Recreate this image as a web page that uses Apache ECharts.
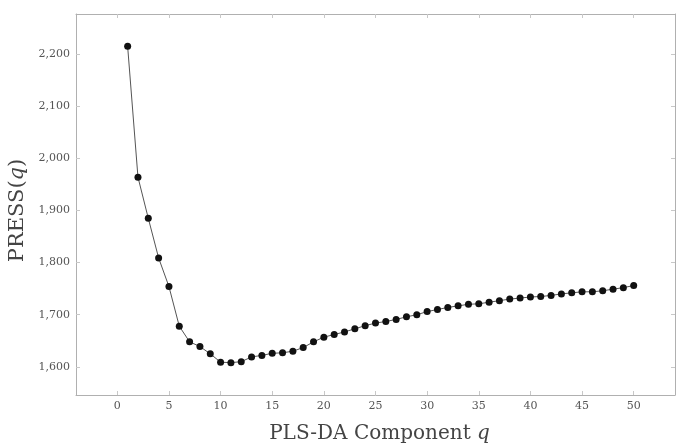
<!DOCTYPE html>
<html>
<head>
<meta charset="utf-8">
<script src="https://cdn.jsdelivr.net/npm/echarts@6/dist/echarts.min.js"></script>
<style>html,body{margin:0;padding:0;background:#fff;}#c{width:678px;height:443px;}</style>
</head>
<body>
<div id="c"></div>
<script>
const components = [1,2,3,4,5,6,7,8,9,10,11,12,13,14,15,16,17,18,19,20,21,22,23,24,25,26,27,28,29,30,31,32,33,34,35,36,37,38,39,40,41,42,43,44,45,46,47,48,49,50];
const press = [2215,1964,1885,1809,1754,1678,1648,1639,1625,1609,1608,1610,1619,1622,1626,1627,1630,1637,1648,1657,1662,1667,1673,1679,1684,1687,1691,1696,1700,1706,1710,1714,1717,1720,1721,1724,1727,1730,1732,1734,1735,1737,1740,1742,1744,1744,1746,1749,1752,1756];
const xTicks = [0,5,10,15,20,25,30,35,40,45,50];
const yTicks = [1600,1700,1800,1900,2000,2100,2200];

const font = '"DejaVu Serif", "Liberation Serif", serif';
const axisLineStyle = {color:'#b0b0b0', width:1};
const fmt = v => { const s = String(Math.round(v)); return s.length > 3 ? s.slice(0, s.length-3) + ',' + s.slice(s.length-3) : s; };

const chart = echarts.init(document.getElementById('c'), null, {renderer:'canvas'});
chart.setOption({
  animation:false,
  backgroundColor:'#fff',
  grid:{left:76, right:3, top:14, bottom:48, containLabel:false, outerBoundsMode:'none'},
  xAxis:[{
    type:'value', min:-4, max:54, position:'bottom',
    axisLine:{show:true, onZero:false, lineStyle:axisLineStyle},
    axisTick:{show:true, inside:true, length:4, lineStyle:{color:'#c8c8c8'}, customValues:xTicks},
    axisLabel:{show:true, customValues:xTicks, color:'#555', fontFamily:font, fontSize:11, margin:6},
    splitLine:{show:false},
    name:'{a|PLS-DA Component }{i|q}', nameLocation:'middle', nameGap:29,
    nameTextStyle:{padding:[0,0,0,8], rich:{a:{fontFamily:font, fontSize:20, color:'#444'}, i:{fontFamily:font, fontStyle:'italic', fontSize:20, color:'#444'}}}
  },{
    type:'value', min:-4, max:54, position:'top',
    axisLine:{show:true, onZero:false, lineStyle:axisLineStyle},
    axisTick:{show:true, inside:true, length:4, lineStyle:{color:'#c8c8c8'}, customValues:xTicks},
    axisLabel:{show:false}, splitLine:{show:false}
  }],
  yAxis:[{
    type:'value', min:1546, max:2277, position:'left',
    axisLine:{show:true, onZero:false, lineStyle:axisLineStyle},
    axisTick:{show:true, inside:true, length:4, lineStyle:{color:'#c8c8c8'}, customValues:yTicks},
    axisLabel:{show:true, customValues:yTicks, color:'#555', fontFamily:font, fontSize:11, margin:6, formatter:fmt},
    splitLine:{show:false},
    name:'{a|PRESS(}{i|q}{a|)}', nameLocation:'middle', nameGap:46, nameRotate:90,
    nameTextStyle:{padding:[0,12,0,0], rich:{a:{fontFamily:font, fontSize:21, color:'#444'}, i:{fontFamily:font, fontStyle:'italic', fontSize:21, color:'#444'}}}
  },{
    type:'value', min:1546, max:2277, position:'right',
    axisLine:{show:true, onZero:false, lineStyle:axisLineStyle},
    axisTick:{show:true, inside:true, length:4, lineStyle:{color:'#c8c8c8'}, customValues:yTicks},
    axisLabel:{show:false}, splitLine:{show:false}
  }],
  series:[{
    type:'line', xAxisIndex:0, yAxisIndex:0,
    data: components.map((c,i)=>[c, press[i]]),
    symbol:'circle', symbolSize:7,
    itemStyle:{color:'#111'},
    lineStyle:{color:'#555', width:1}
  }]
});
</script>
</body>
</html>
